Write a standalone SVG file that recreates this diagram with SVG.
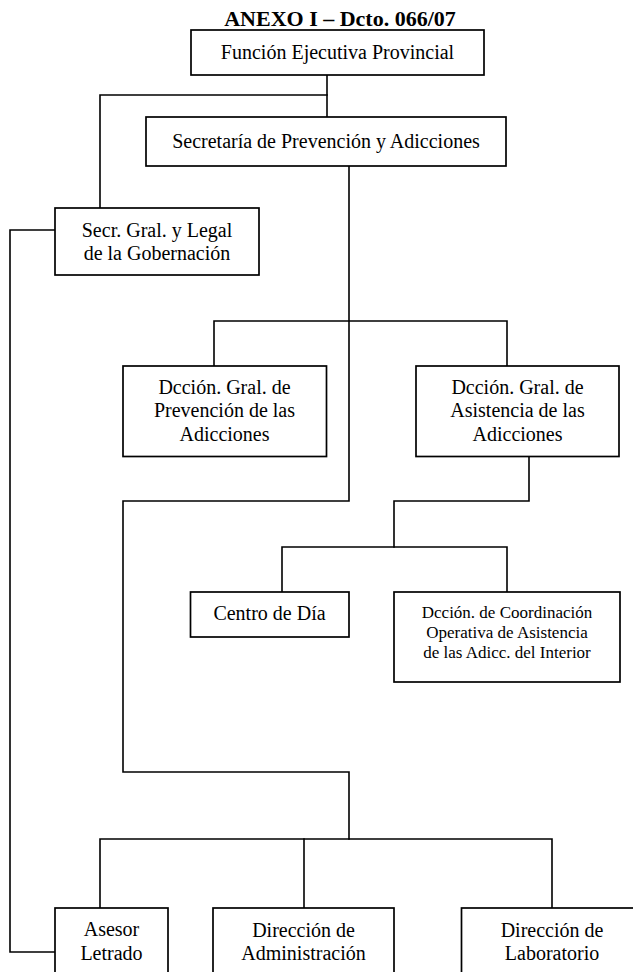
<svg xmlns="http://www.w3.org/2000/svg" width="633" height="972" viewBox="0 0 633 972">
<style>
.bg{fill:#fff}
.box{fill:#fff;stroke:#000;stroke-width:1.7}
.ln{fill:none;stroke:#000;stroke-width:1.6;stroke-linecap:square}
text{font-family:"Liberation Serif","Times New Roman",serif;font-size:20px;fill:#000;text-anchor:middle}
.title{font-size:22px;font-weight:bold}
.sm{font-size:17px}
</style>
<rect class="bg" x="0" y="0" width="633" height="972"/>
<text class="title" x="340" y="26">ANEXO I – Dcto. 066/07</text>
<g id="connectors">
  <polyline class="ln" points="327,75 327,117"/>
  <polyline class="ln" points="327,95 100,95 100,208"/>
  <polyline class="ln" points="55,230 10,230 10,952 55,952"/>
  <polyline class="ln" points="349,166 349,501 123,501 123,772 349,772 349,839"/>
  <polyline class="ln" points="214,366 214,321 507,321 507,366"/>
  <polyline class="ln" points="529,457 529,501 394,501 394,547"/>
  <polyline class="ln" points="282,592 282,547 507,547 507,592"/>
  <polyline class="ln" points="100,908 100,839 552,839 552,908"/>
  <polyline class="ln" points="304,839 304,908"/>
</g>
<g id="n-funcion">
  <rect class="box" x="191" y="30" width="293" height="45"/>
  <text x="337.5" y="58.5">Función Ejecutiva Provincial</text>
</g>
<g id="n-secretaria">
  <rect class="box" x="146" y="117" width="360" height="49"/>
  <text x="326" y="147.5">Secretaría de Prevención y Adicciones</text>
</g>
<g id="n-secrgral">
  <rect class="box" x="55" y="208" width="204" height="67"/>
  <text x="157" y="236.7">Secr. Gral. y Legal</text>
  <text x="157" y="260">de la Gobernación</text>
</g>
<g id="n-prevencion">
  <rect class="box" x="123" y="366" width="203.5" height="90.5"/>
  <text x="224.5" y="393.6">Dcción. Gral. de</text>
  <text x="224.5" y="417.3">Prevención de las</text>
  <text x="224.5" y="441">Adicciones</text>
</g>
<g id="n-asistencia">
  <rect class="box" x="416" y="366" width="203" height="90.5"/>
  <text x="517.5" y="393.6">Dcción. Gral. de</text>
  <text x="517.5" y="417.3">Asistencia de las</text>
  <text x="517.5" y="441">Adicciones</text>
</g>
<g id="n-centro">
  <rect class="box" x="190.5" y="592" width="158.5" height="45"/>
  <text x="269.5" y="620">Centro de Día</text>
</g>
<g id="n-coordinacion">
  <rect class="box" x="394" y="592" width="226" height="90"/>
  <text class="sm" x="507" y="618.3">Dcción. de Coordinación</text>
  <text class="sm" x="507" y="638.3">Operativa de Asistencia</text>
  <text class="sm" x="507" y="658.3">de las Adicc. del Interior</text>
</g>
<g id="n-asesor">
  <rect class="box" x="55" y="908" width="113" height="80"/>
  <text x="111.5" y="936">Asesor</text>
  <text x="111.5" y="960">Letrado</text>
</g>
<g id="n-administracion">
  <rect class="box" x="213" y="908" width="181" height="80"/>
  <text x="303.5" y="936.5">Dirección de</text>
  <text x="303.5" y="959.5">Administración</text>
</g>
<g id="n-laboratorio">
  <rect class="box" x="461.5" y="908" width="181" height="80"/>
  <text x="552" y="936.5">Dirección de</text>
  <text x="552" y="959.5">Laboratorio</text>
</g>
</svg>
